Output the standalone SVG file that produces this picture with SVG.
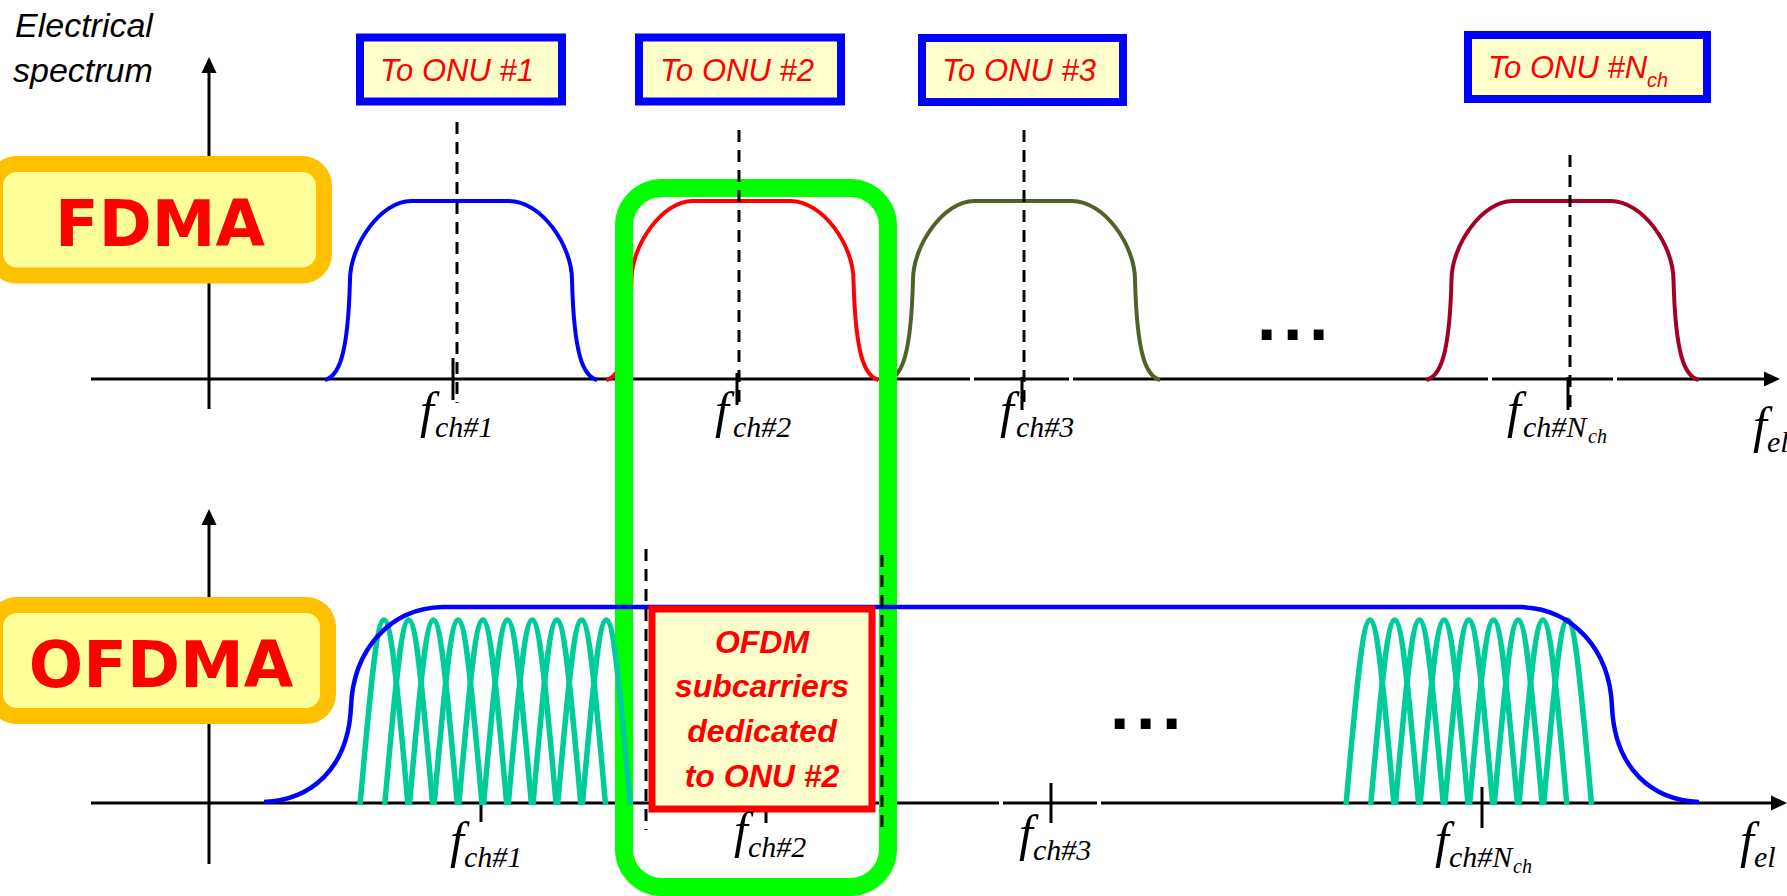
<svg xmlns="http://www.w3.org/2000/svg" width="1787" height="896" viewBox="0 0 1787 896">
<style>
.ax{stroke:#000;stroke-width:3;fill:none}
.tk{stroke:#000;stroke-width:3}
.dash{stroke:#000;stroke-width:3;stroke-dasharray:12 8;fill:none}
.band{fill:none;stroke-width:4}
.sc{fill:none;stroke:#00CC99;stroke-width:5.5}
.env{fill:none;stroke:#0000FF;stroke-width:4.5}
.onu{fill:#FFFFCC;stroke:#0000FF;stroke-width:8}
.onut{font-family:"Liberation Sans",Arial,sans-serif;font-style:italic;font-size:31px;fill:#FF0000}
.lab{fill:#FFFF99;stroke:#FFC000;stroke-width:16}
.big{font-family:"DejaVu Sans",Verdana,sans-serif;font-weight:bold;font-size:64px;fill:#FF0000;text-anchor:middle}
.fm{font-family:"Liberation Serif","Times New Roman",serif;font-style:italic;font-size:50px;fill:#000}
.sb{font-size:30px}
.sb2{font-size:20px}
.ttl{font-family:"Liberation Sans",Arial,sans-serif;font-style:italic;font-size:34px;fill:#000}
.dots{font-family:"DejaVu Sans",sans-serif;font-weight:bold;font-size:56px;letter-spacing:4.7px;fill:#000}
.ofdm{font-family:"Liberation Sans",Arial,sans-serif;font-style:italic;font-weight:bold;font-size:32px;fill:#FF0000;text-anchor:middle}
</style>
<defs>
<path id="band" d="M -136,0 C -122,-4 -113,-25 -111,-100 C -111,-135 -80,-179 -50,-179 L 48,-179 C 80,-179 111,-135 111,-100 C 113,-25 122,-4 136,0"/>
<path id="arch" d="M -24,0 C -15,-100 -8,-185 0,-185 C 8,-185 15,-100 24,0"/>
</defs>

<g id="title">
<text class="ttl" x="15" y="37">Electrical</text>
<text class="ttl" x="13" y="82">spectrum</text>
</g>

<g id="axes-top">
<line class="ax" x1="209" y1="72" x2="209" y2="409"/>
<polygon points="209,57 201.5,73 216.5,73" fill="#000"/>
<polyline class="ax" points="91,379 970,379"/>
<polyline class="ax" points="974,379 1069,379"/>
<polyline class="ax" points="1073,379 1488,379"/>
<polyline class="ax" points="1492,379 1613,379"/>
<polyline class="ax" points="1617,379 1766,379"/>
<polygon points="1780,379 1764,371.5 1764,386.5" fill="#000"/>
<line class="tk" x1="453" y1="358" x2="453" y2="400"/>
<line class="tk" x1="737" y1="373" x2="737" y2="405"/>
<line class="tk" x1="1022" y1="377" x2="1022" y2="410"/>
<line class="tk" x1="1568" y1="377" x2="1568" y2="410"/>
</g>

<g id="axes-bottom">
<line class="ax" x1="209" y1="523" x2="209" y2="864"/>
<polygon points="209,509 201.5,525 216.5,525" fill="#000"/>
<polyline class="ax" points="91,803 999,803"/>
<polyline class="ax" points="1003,803 1097,803"/>
<polyline class="ax" points="1101,803 1773,803"/>
<polygon points="1787,803 1771,795.5 1771,810.5" fill="#000"/>
<line class="tk" x1="481" y1="781" x2="481" y2="822"/>
<line class="tk" x1="766" y1="800" x2="766" y2="823"/>
<line class="tk" x1="1051" y1="783" x2="1051" y2="823"/>
<line class="tk" x1="1482" y1="787" x2="1482" y2="828"/>
</g>

<g id="spectrum-top">
<use href="#band" x="461" y="380" class="band" stroke="#0000FF"/>
<use href="#band" x="742.5" y="380" class="band" stroke="#FF0000"/>
<use href="#band" x="1024" y="380" class="band" stroke="#4F6228"/>
<use href="#band" x="1562.5" y="380" class="band" stroke="#A50021"/>
<text class="dots" x="1256" y="339.5">...</text>
</g>

<g id="fdma-label">
<rect class="lab" x="-5" y="164" width="329" height="111.5" rx="22"/>
<text class="big" x="160" y="246">FDMA</text>
</g>

<g id="ofdma-label">
<rect class="lab" x="-5" y="605" width="333" height="111" rx="22"/>
<text class="big" x="161" y="687">OFDMA</text>
</g>

<g id="onu1">
<rect class="onu" x="360" y="37.5" width="202" height="64"/>
<text class="onut" x="380" y="81">To ONU #1</text>
</g>
<g id="onu2">
<rect class="onu" x="639" y="37.5" width="202" height="64"/>
<text class="onut" x="660" y="81">To ONU #2</text>
</g>
<g id="onu3">
<rect class="onu" x="922" y="38" width="201" height="64"/>
<text class="onut" x="942" y="81">To ONU #3</text>
</g>
<g id="onuN">
<rect class="onu" x="1468" y="35" width="239" height="64"/>
<text class="onut" x="1488" y="78">To ONU #N<tspan class="sb2" dy="9">ch</tspan></text>
</g>

<g id="spectrum-bottom">
<g id="subcarriers-1">
<use href="#arch" x="384" y="805" class="sc"/>
<use href="#arch" x="408.7" y="805" class="sc"/>
<use href="#arch" x="433.4" y="805" class="sc"/>
<use href="#arch" x="458.1" y="805" class="sc"/>
<use href="#arch" x="482.8" y="805" class="sc"/>
<use href="#arch" x="507.5" y="805" class="sc"/>
<use href="#arch" x="532.2" y="805" class="sc"/>
<use href="#arch" x="556.9" y="805" class="sc"/>
<use href="#arch" x="581.6" y="805" class="sc"/>
</g>
<g id="subcarriers-n">
<use href="#arch" x="1370" y="805" class="sc"/>
<use href="#arch" x="1394.7" y="805" class="sc"/>
<use href="#arch" x="1419.4" y="805" class="sc"/>
<use href="#arch" x="1444.1" y="805" class="sc"/>
<use href="#arch" x="1468.8" y="805" class="sc"/>
<use href="#arch" x="1493.5" y="805" class="sc"/>
<use href="#arch" x="1518.2" y="805" class="sc"/>
<use href="#arch" x="1542.9" y="805" class="sc"/>
<use href="#arch" x="1567.6" y="805" class="sc"/>
</g>
<text class="dots" x="1109" y="728.5">...</text>
</g>

<g id="green-box">
<rect x="624" y="188" width="264" height="699" rx="38" fill="none" stroke="#00FF00" stroke-width="18"/>
</g>

<g id="subcarrier-last">
<use href="#arch" x="606.3" y="805" class="sc"/>
</g>

<g id="envelope">
<path class="env" d="M 264,802 C 310,800 348,770 351,707 C 353,650 390,608 443,607 L 1520,607 C 1573,608 1610,650 1612,707 C 1615,770 1653,800 1699,802"/>
</g>

<g id="ofdm-box">
<rect x="652" y="609" width="220" height="200" fill="#FFFFCC" stroke="#FF0000" stroke-width="7"/>
<text class="ofdm" x="762" y="653">OFDM</text>
<text class="ofdm" x="762" y="697">subcarriers</text>
<text class="ofdm" x="762" y="742">dedicated</text>
<text class="ofdm" x="762" y="787">to ONU #2</text>
</g>

<g id="connectors">
<line class="dash" x1="457" y1="122" x2="457" y2="403"/>
<line class="dash" x1="739" y1="130" x2="739" y2="405"/>
<line class="dash" x1="1024" y1="130" x2="1024" y2="405"/>
<line class="dash" x1="1570" y1="155" x2="1570" y2="410"/>
<line class="dash" x1="646" y1="549" x2="646" y2="830"/>
<line class="dash" x1="882" y1="555" x2="882" y2="835"/>
</g>

<g id="freq-labels">
<text class="fm" x="420" y="427">f<tspan class="sb" x="435" y="437">ch#1</tspan></text>
<text class="fm" x="715" y="427">f<tspan class="sb" x="733" y="437">ch#2</tspan></text>
<text class="fm" x="1000" y="427">f<tspan class="sb" x="1016" y="437">ch#3</tspan></text>
<text class="fm" x="1507" y="427">f<tspan class="sb" x="1523" y="437">ch#N</tspan><tspan class="sb2" x="1588" y="443">ch</tspan></text>
<text class="fm" x="1753" y="442">f<tspan class="sb" x="1767" y="452">el</tspan></text>
<text class="fm" x="450" y="857">f<tspan class="sb" x="464" y="867">ch#1</tspan></text>
<text class="fm" x="734" y="847">f<tspan class="sb" x="748" y="857">ch#2</tspan></text>
<text class="fm" x="1019" y="850">f<tspan class="sb" x="1033" y="860">ch#3</tspan></text>
<text class="fm" x="1435" y="857">f<tspan class="sb" x="1449" y="867">ch#N</tspan><tspan class="sb2" x="1513" y="873">ch</tspan></text>
<text class="fm" x="1740" y="857">f<tspan class="sb" x="1754" y="867">el</tspan></text>
</g>
</svg>
